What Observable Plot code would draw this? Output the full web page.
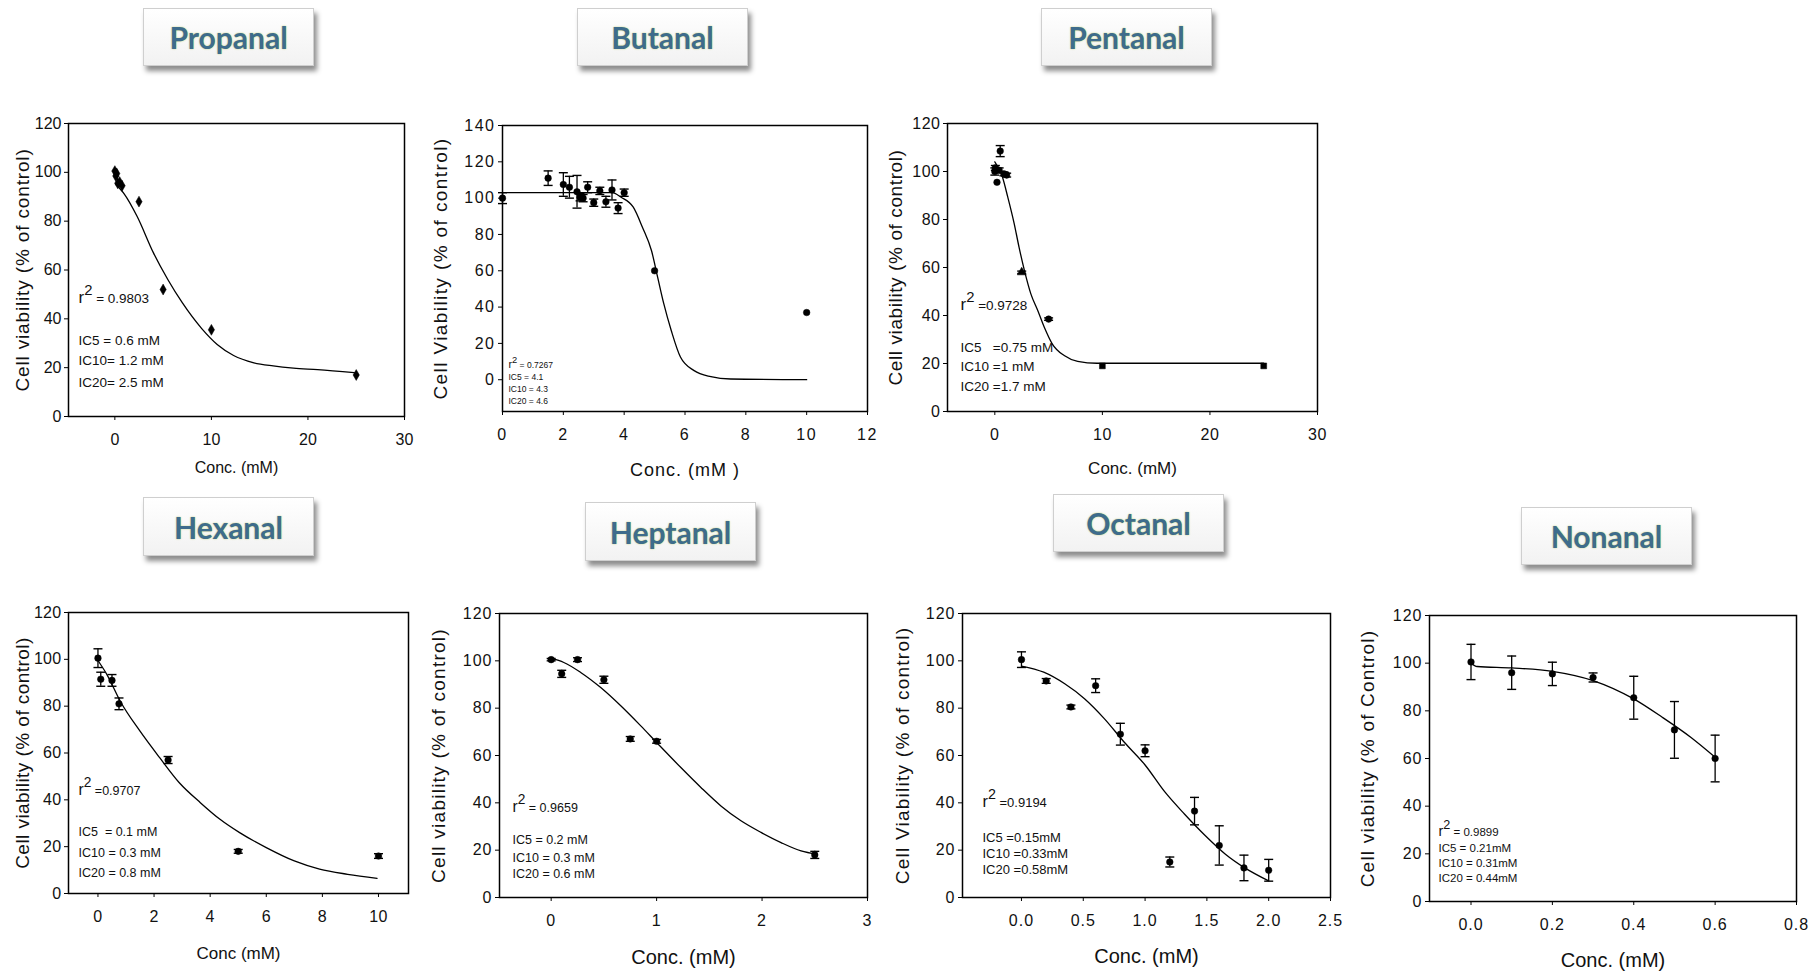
<!DOCTYPE html>
<html><head><meta charset="utf-8">
<script src="https://cdn.jsdelivr.net/npm/d3@7"></script>
<script src="https://cdn.jsdelivr.net/npm/@observablehq/plot@0.6"></script>
<style>
html,body{margin:0;padding:0;background:#fff;}
#page{position:relative;width:1810px;height:973px;overflow:hidden;background:#fff;}
.tbox{position:absolute;box-sizing:border-box;background:linear-gradient(#ffffff,#f2f2f2);border:1px solid #cfcfcf;box-shadow:3px 5px 5px rgba(0,0,0,0.45);display:flex;align-items:center;justify-content:center;font-family:Lato,"Open Sans",sans-serif;font-weight:700;font-size:30px;color:#3e6c8c;text-shadow:0 0 1.5px rgba(175,195,70,0.9);}
svg.panel{position:absolute;overflow:visible;}
</style></head><body><div id="page"></div>
<script>
// ---------- data ----------
const yTicks120 = [0, 20, 40, 60, 80, 100, 120];
const yTicks140 = [0, 20, 40, 60, 80, 100, 120, 140];

const propanalConc = [0, 0.1, 0.2, 0.3, 0.5, 0.75, 2.5, 5, 10, 25];
const propanalViab = [100.5, 98.5, 99.5, 95.5, 96, 94.5, 88, 52, 35.5, 17];
const propanalErr  = [0, 0, 0, 0, 0, 0, 0, 0, 0, 0];
const propanalFitX = [0.1, 1, 2.3, 4, 5.5, 7, 9, 10.6, 12.3, 14.4, 16.4, 18.5, 21, 24.8];
const propanalFitY = [95, 91, 82, 67, 56, 46.5, 36, 29.5, 25, 22, 20.7, 19.8, 19.2, 18];
const propanalXTicks = [0, 10, 20, 30];
const propanalNotes = ["r² = 0.9803", "IC5 = 0.6 mM", "IC10= 1.2 mM", "IC20= 2.5 mM"];

const butanalConc = [0, 1.5, 2, 2.2, 2.45, 2.55, 2.65, 2.8, 3, 3.2, 3.4, 3.6, 3.8, 4, 5, 10];
const butanalViab = [100, 111, 107.5, 106, 103.5, 100.5, 100, 106, 97.5, 104, 98, 104.5, 94.5, 103, 60, 37];
const butanalErr  = [3, 4, 6.5, 6, 9, 2, 2, 3, 2, 2, 3, 5.5, 3, 2, 0, 0];
const butanalFitX = [0, 3.6, 3.9, 4.3, 4.6, 4.9, 5.1, 5.3, 5.55, 5.85, 6.3, 6.85, 7.5, 10];
const butanalFitY = [103, 103, 100.5, 95, 84, 71, 56.5, 42, 27, 12.5, 5, 1.7, 0.4, 0];
const butanalXTicks = [0, 2, 4, 6, 8, 10, 12];
const butanalNotes = ["r² = 0.7267", "IC5 = 4.1", "IC10 = 4.3", "IC20 = 4.6"];

const pentanalConc = [0, 0.05, 0.2, 0.4, 0.5, 0.85, 1.1, 2.5, 5, 10, 25];
const pentanalViab = [100, 101.5, 95.5, 100.5, 108.5, 99, 98.5, 58, 38.5, 19, 19];
const pentanalErr  = [1.5, 1, 0, 1, 2.3, 0.8, 0.8, 0.5, 0.5, 0, 0];
const pentanalSym  = ["circle", "circle", "circle", "circle", "circle", "circle", "circle", "triangle", "circle", "square", "square"];
const pentanalFitX = [0, 0.7, 1.2, 1.8, 2.25, 2.75, 3.35, 4, 4.6, 5.35, 6.45, 7.7, 9.5, 25];
const pentanalFitY = [104, 97.8, 89.4, 78.3, 68.5, 58.8, 49, 42, 35.1, 28.1, 23.3, 20.9, 20.1, 20.1];
const pentanalXTicks = [0, 10, 20, 30];
const pentanalNotes = ["r² =0.9728", "IC5   =0.75 mM", "IC10 =1 mM", "IC20 =1.7 mM"];

const hexanalConc = [0, 0.1, 0.5, 0.75, 2.5, 5, 10];
const hexanalViab = [100.5, 91.5, 91, 81, 57, 18, 16];
const hexanalErr  = [4, 3, 2.5, 2.5, 1.5, 0.8, 1];
const hexanalFitX = [0, 0.32, 0.8, 1.5, 2.2, 2.9, 3.65, 4.35, 5.05, 6, 7, 7.9, 8.9, 9.95];
const hexanalFitY = [99.5, 93.5, 82, 69.3, 58, 47.3, 38.8, 31.7, 26, 19.6, 13.9, 10.4, 8.2, 6.5];
const hexanalXTicks = [0, 2, 4, 6, 8, 10];
const hexanalNotes = ["r² =0.9707", "IC5  = 0.1 mM", "IC10 = 0.3 mM", "IC20 = 0.8 mM"];

const heptanalConc = [0, 0.1, 0.25, 0.5, 0.75, 1, 2.5];
const heptanalViab = [100.5, 94.5, 100.5, 92, 67, 66, 18];
const heptanalErr  = [0.5, 1.5, 0.8, 1.5, 1, 0.8, 1.5];
const heptanalFitX = [0, 0.12, 0.28, 0.47, 0.66, 0.85, 1.0, 1.23, 1.42, 1.61, 1.8, 1.99, 2.18, 2.37, 2.52];
const heptanalFitY = [101, 99.3, 95.1, 88.7, 81, 72.5, 65.5, 54.9, 46.5, 38.7, 32.4, 27.5, 23.2, 19.7, 18.3];
const heptanalXTicks = [0, 1, 2, 3];
const heptanalNotes = ["r² = 0.9659", "IC5 = 0.2 mM", "IC10 = 0.3 mM", "IC20 = 0.6 mM"];

const octanalConc = [0, 0.2, 0.4, 0.6, 0.8, 1, 1.2, 1.4, 1.6, 1.8, 2];
const octanalViab = [100.5, 91.5, 80.5, 89.5, 69, 62, 15, 36.5, 22, 12.5, 11.5];
const octanalErr  = [3.3, 1, 0.8, 2.9, 4.6, 2.5, 2.1, 5.8, 8.3, 5.4, 4.6];
const octanalFitX = [0, 0.18, 0.35, 0.51, 0.67, 0.83, 1, 1.16, 1.32, 1.49, 1.65, 1.81, 2];
const octanalFitY = [97.8, 95.2, 90.3, 84, 75.6, 65.7, 56, 44.6, 35.2, 26, 18.3, 12.4, 7];
const octanalXTicks = [0, 0.5, 1, 1.5, 2, 2.5];
const octanalNotes = ["r² =0.9194", "IC5 =0.15mM", "IC10 =0.33mM", "IC20 =0.58mM"];

const nonanalConc = [0, 0.1, 0.2, 0.3, 0.4, 0.5, 0.6];
const nonanalViab = [100.5, 96, 95.5, 94, 85.5, 72, 60];
const nonanalErr  = [7.4, 7, 4.9, 1.9, 9, 11.9, 9.8];
const nonanalFitX = [0, 0.015, 0.1, 0.2, 0.3, 0.4, 0.47, 0.54, 0.6];
const nonanalFitY = [100, 98.6, 98, 96.6, 92.7, 85, 77.3, 68.9, 60.5];
const nonanalXTicks = [0, 0.2, 0.4, 0.6, 0.8];
const nonanalNotes = ["r² = 0.9899", "IC5 = 0.21mM", "IC10 = 0.31mM", "IC20 = 0.44mM"];

const titles = ["Propanal", "Butanal", "Pentanal", "Hexanal", "Heptanal", "Octanal", "Nonanal"];

// ---------- layout / style ----------
const page = document.getElementById("page");
const titleBoxes = [
  [143, 8, 171, 58], [577, 8, 171, 58], [1041, 8, 171, 58],
  [143, 497, 171, 59], [585, 502, 171, 59], [1053, 494, 171, 58], [1521, 507, 171, 58]
];
titles.forEach((t, i) => {
  const [l, tp, w, h] = titleBoxes[i];
  const d = document.createElement("div");
  d.className = "tbox";
  d.style.left = l + "px"; d.style.top = tp + "px"; d.style.width = w + "px"; d.style.height = h + "px";
  d.textContent = t;
  page.appendChild(d);
});

const capSymbol = {draw(ctx, size) { const r = Math.sqrt(size / Math.PI); ctx.moveTo(-r, 0); ctx.lineTo(r, 0); }};

const panels = [
  {conc: propanalConc, viab: propanalViab, err: propanalErr, fx: propanalFitX, fy: propanalFitY, xt: propanalXTicks, yt: yTicks120, notes: propanalNotes,
   frame: [68, 123, 404, 416], xd: [-4.8, 30], yd: [0, 120], sym: "diamond", fmt: null,
   xl: "Conc. (mM)", xlfs: 16, xldy: 51, xls: 0, yl: "Cell viability (% of control)", ylfs: 19, yldx: -46, yls: 0.85,
   ndx: 10, ndy: [-118, -76, -56, -34], nfs: 13.5, ts: 0},
  {conc: butanalConc, viab: butanalViab, err: butanalErr, fx: butanalFitX, fy: butanalFitY, xt: butanalXTicks, yt: yTicks140, notes: butanalNotes,
   frame: [502, 125, 867, 411], xd: [0, 12], yd: [-17.5, 140], sym: "circle", fmt: null,
   xl: "Conc. (mM )", xlfs: 18, xldy: 59, xls: 1, yl: "Cell Viability (% of control)", ylfs: 19, yldx: -62, yls: 1.4,
   ndx: 6, ndy: [-46, -34, -22, -10], nfs: 8.5, ts: 1.5},
  {conc: pentanalConc, viab: pentanalViab, err: pentanalErr, fx: pentanalFitX, fy: pentanalFitY, xt: pentanalXTicks, yt: yTicks120, notes: pentanalNotes,
   frame: [947, 123, 1317, 411], xd: [-4.4, 30], yd: [0, 120], sym: pentanalSym, fmt: null,
   xl: "Conc. (mM)", xlfs: 17, xldy: 57, xls: 0, yl: "Cell viability (% of control)", ylfs: 19, yldx: -52, yls: 0.6,
   ndx: 13, ndy: [-106, -64, -45, -25], nfs: 13.5, ts: 0.5},
  {conc: hexanalConc, viab: hexanalViab, err: hexanalErr, fx: hexanalFitX, fy: hexanalFitY, xt: hexanalXTicks, yt: yTicks120, notes: hexanalNotes,
   frame: [68, 612, 408, 893], xd: [-1.05, 11.07], yd: [0, 120], sym: "circle", fmt: null,
   xl: "Conc (mM)", xlfs: 17, xldy: 60, xls: 0, yl: "Cell viability (% of control)", ylfs: 19, yldx: -46, yls: 0.45,
   ndx: 10, ndy: [-103, -62, -41, -21], nfs: 12.5, ts: 0.3},
  {conc: heptanalConc, viab: heptanalViab, err: heptanalErr, fx: heptanalFitX, fy: heptanalFitY, xt: heptanalXTicks, yt: yTicks120, notes: heptanalNotes,
   frame: [499, 613, 867, 897], xd: [-0.49, 3], yd: [0, 120], sym: "circle", fmt: null,
   xl: "Conc. (mM)", xlfs: 20, xldy: 60, xls: 0, yl: "Cell viability (% of control)", ylfs: 19, yldx: -61, yls: 1.25,
   ndx: 13, ndy: [-90, -58, -40, -24], nfs: 12.5, ts: 1},
  {conc: octanalConc, viab: octanalViab, err: octanalErr, fx: octanalFitX, fy: octanalFitY, xt: octanalXTicks, yt: yTicks120, notes: octanalNotes,
   frame: [962, 613, 1330, 897], xd: [-0.477, 2.5], yd: [0, 120], sym: "circle", fmt: ".1f",
   xl: "Conc. (mM)", xlfs: 20, xldy: 59, xls: 0, yl: "Cell Viability (% of control)", ylfs: 19, yldx: -60, yls: 1.25,
   ndx: 20, ndy: [-95, -60, -44, -28], nfs: 13, ts: 1},
  {conc: nonanalConc, viab: nonanalViab, err: nonanalErr, fx: nonanalFitX, fy: nonanalFitY, xt: nonanalXTicks, yt: yTicks120, notes: nonanalNotes,
   frame: [1429, 615, 1796, 901], xd: [-0.102, 0.8], yd: [0, 120], sym: "circle", fmt: ".1f",
   xl: "Conc. (mM)", xlfs: 20, xldy: 59, xls: 0, yl: "Cell viability (% of Control)", ylfs: 19, yldx: -62, yls: 1.2,
   ndx: 9, ndy: [-69, -53, -38, -23], nfs: 11.5, ts: 1}
];

const mL = 80, mR = 24, mT = 10, mB = 80;

panels.forEach(p => {
  const [L, T, R, B] = p.frame;
  const pts = p.conc.map((c, i) => ({x: c, y: p.viab[i], e: p.err[i], s: Array.isArray(p.sym) ? p.sym[i] : p.sym}));
  const errs = pts.filter(d => d.e > 0).map(d => ({x: d.x, lo: d.y - d.e, hi: d.y + d.e}));
  const fit = p.fx.map((x, i) => ({x, y: p.fy[i]}));
  const fmt = p.fmt ? d3.format(p.fmt) : (d => String(d));
  const noteMarks = p.notes.map((t, i) => Plot.text([t], {text: d => d, frameAnchor: "bottom-left", dx: p.ndx, dy: p.ndy[i], textAnchor: "start", lineAnchor: "middle", fontSize: p.nfs, fill: "#111"}));
  const svg = Plot.plot({
    width: (R - L) + mL + mR,
    height: (B - T) + mT + mB,
    marginLeft: mL, marginRight: mR, marginTop: mT, marginBottom: mB,
    style: {fontFamily: "'Liberation Sans', Arial, sans-serif", fontSize: "16px", color: "#111", background: "transparent", overflow: "visible"},
    x: {domain: p.xd},
    y: {domain: p.yd},
    marks: [
      Plot.axisX({ticks: p.xt, tickFormat: fmt, tickSize: 4, tickPadding: 13, label: null, stroke: "#000"}),
      Plot.axisY({ticks: p.yt, tickSize: 4, tickPadding: 3, label: null, stroke: "#000"}),
      Plot.line(fit, {x: "x", y: "y", stroke: "#000", strokeWidth: 1.3, curve: "monotone-x"}),
      Plot.ruleX(errs, {x: "x", y1: "lo", y2: "hi", stroke: "#000", strokeWidth: 1.3}),
      Plot.dot(errs, {x: "x", y: "lo", symbol: capSymbol, r: 4.5, stroke: "#000", strokeWidth: 1.4, fill: "none"}),
      Plot.dot(errs, {x: "x", y: "hi", symbol: capSymbol, r: 4.5, stroke: "#000", strokeWidth: 1.4, fill: "none"}),
      Plot.dot(pts, {x: "x", y: "y", symbol: "s", r: 3.3, fill: "#000", stroke: "#000", strokeWidth: 0.5}),
      ...noteMarks,
      Plot.text([p.xl], {text: d => d, frameAnchor: "bottom", dy: p.xldy, textAnchor: "middle", lineAnchor: "middle", fontSize: p.xlfs, fill: "#111"}),
      Plot.text([p.yl], {text: d => d, frameAnchor: "left", dx: p.yldx, rotate: -90, textAnchor: "middle", lineAnchor: "middle", fontSize: p.ylfs, fill: "#111"}),
      Plot.frame({stroke: "#000", strokeWidth: 1.5})
    ]
  });
  svg.classList.add("panel");
  svg.style.left = (L - mL) + "px";
  svg.style.top = (T - mT) + "px";
  // text spacing tweaks
  svg.querySelectorAll("g[aria-label$='tick label']").forEach(g => g.setAttribute("letter-spacing", p.ts));
  svg.querySelectorAll("text").forEach(t => {
    const s = t.textContent;
    if (s === p.yl) t.setAttribute("letter-spacing", p.yls);
    if (s === p.xl) t.setAttribute("letter-spacing", p.xls);
    if (s.startsWith("r²")) {
      const rest = s.slice(2);
      const fs = p.nfs;
      while (t.firstChild) t.removeChild(t.firstChild);
      const ns = "http://www.w3.org/2000/svg";
      const a = document.createElementNS(ns, "tspan"); a.textContent = "r"; a.setAttribute("font-size", fs * 1.25);
      const b = document.createElementNS(ns, "tspan"); b.textContent = "2"; b.setAttribute("font-size", fs * 1.1); b.setAttribute("dy", -fs * 0.6);
      const c = document.createElementNS(ns, "tspan"); c.textContent = rest; c.setAttribute("dy", fs * 0.6);
      t.appendChild(a); t.appendChild(b); t.appendChild(c);
    }
  });
  page.appendChild(svg);
});
</script></body></html>
